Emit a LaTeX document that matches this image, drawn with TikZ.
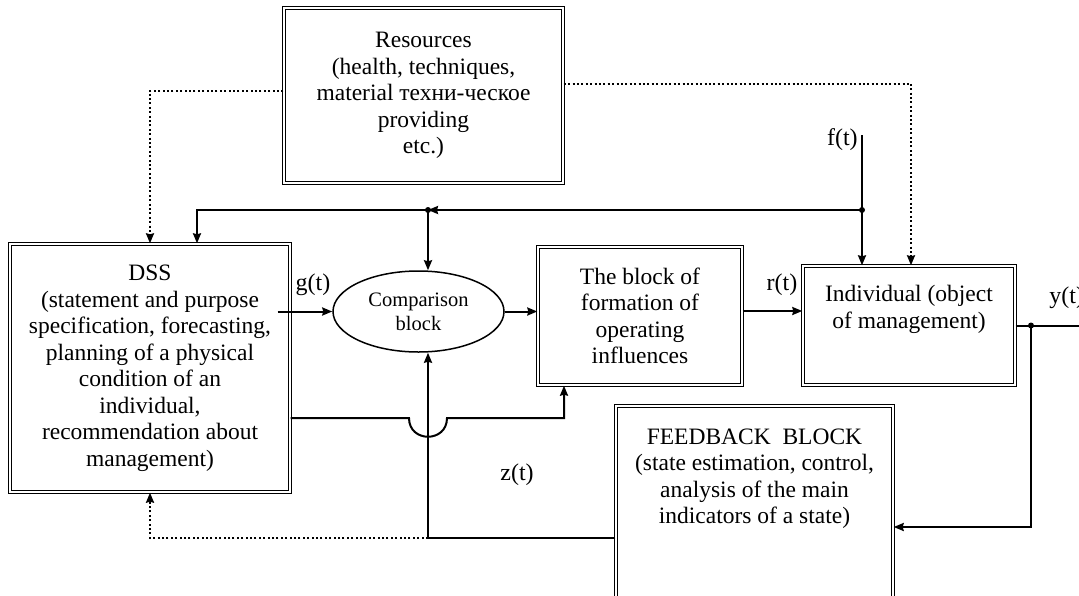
\documentclass[tikz,border=0pt]{standalone}
\usepackage{fontspec}
\setmainfont{Liberation Serif}
\usepackage{tikz}
\usetikzlibrary{shapes.geometric,arrows.meta}

\begin{document}
\begin{tikzpicture}[x=1pt, y=-1pt, >={Stealth[length=10pt, width=8pt, inset=1pt]}, line width=2pt,
    txt/.style={align=center, font=\fontsize{23.5}{26.5}\selectfont},
    block/.style={rectangle, draw=black, double, double distance=1.8pt, line width=1.4pt, txt},
    cmpblock/.style={ellipse, draw=black, line width=1.5pt, minimum width=171pt, minimum height=81pt, align=center, font=\fontsize{20.5}{24}\selectfont},
    sig/.style={font=\fontsize{24}{26}\selectfont},
    resline/.style={->, dash pattern=on 2pt off 2.4pt}]
    \useasboundingbox (0,0) rectangle (1079,595);
    \clip (0,0) rectangle (1079,595);

    \node[block, minimum width=279pt, minimum height=175pt] (res) at (423.5,95.5) {Resources\\(health, techniques,\\material техни-ческое\\providing\\etc.)};
    \node[block, minimum width=280pt, minimum height=248pt] (dss) at (150,368) {DSS\\(statement and purpose\\specification, forecasting,\\planning of a physical\\condition of an\\individual,\\recommendation about\\management)};
    \node[cmpblock] (cmp) at (418.5,311.5) {Comparison\\block};
    \node[block, minimum width=204pt, minimum height=138pt] (form) at (640,316) {The block of\\formation of\\operating\\influences};
    \node[block, minimum width=212pt, minimum height=119pt, label={[txt, anchor=north, yshift=-16pt]north:Individual (object\\of management)}] (indiv) at (909,325.5) {};
    \node[block, minimum width=277pt, minimum height=242pt, label={[txt, anchor=north, yshift=-19pt]north:FEEDBACK\ \ BLOCK\\(state estimation, control,\\analysis of the main\\indicators of a state)}] (fb) at (754.5,527) {};

    \coordinate (fin) at (862,135);
    \coordinate (jf) at (862,210);
    \coordinate (jc) at (428,210);
    \coordinate (jy) at (1031,325.5);
    \coordinate (yout) at (1092,325.5);
    \coordinate (zc) at (428,538);

    % resources
    \draw[resline] ([yshift=5pt]res.west) -| (dss.north);
    \draw[resline] ([yshift=12pt]res.east) -| ([xshift=2pt]indiv.north);

    % f(t) and the upper line
    \node[sig, anchor=east] (ft) at (862,140) {f(t)};
    \draw[->] (fin) -- (fin |- indiv.north);
    \draw[->] (jf) -- (jc);
    \draw[->] (jc) -| ([xshift=47pt]dss.north);
    \draw[->] (jc) -- (jc |- cmp.north);
    \fill (jf) circle (3pt) (jc) circle (3pt);

    % main chain
    \draw[->] (cmp.west -| dss.east) ++(-13,0) -- (cmp.west);
    \node[sig] (gt) at (313,285) {g(t)};
    \draw[->] (cmp.east) -- (cmp.east -| form.west);
    \draw[->] ([yshift=5pt]form.east) -- ([yshift=5pt]form.east -| indiv.west);
    \node[sig] (rt) at (782,285) {r(t)};
    \draw[->] ([yshift=-50pt]dss.east) -- (409,418) .. controls (409,443) and (447,443) .. (447,418) -- (564,418) -- ([xshift=-76pt]form.south);

    % output and feedback
    \draw[->] (indiv.east) -- (yout);
    \node[sig, anchor=west] (yt) at (1045,298) {y(t)};
    \draw[->] (jy) |- (fb.east);
    \fill (jy) circle (3pt);
    \draw (fb.west |- zc) -- (zc);
    \draw[->] (zc) -- (zc |- cmp.south);
    \draw[resline] (zc) -| (dss.south);
    \node[sig] (zt) at (517,475) {z(t)};
\end{tikzpicture}
\end{document}
